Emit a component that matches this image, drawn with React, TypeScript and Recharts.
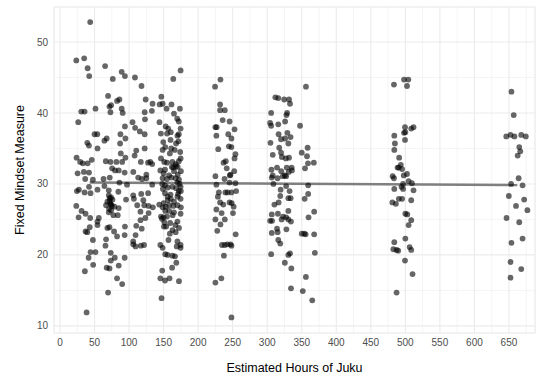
import React from 'react'
import {
  ComposedChart,
  Scatter,
  XAxis,
  YAxis,
  CartesianGrid,
  ReferenceLine,
} from 'recharts'

// jittered points, [hours, mindset], grouped by the hour column they sit around
const around40to100: [number, number][] = [
  [43.7, 52.8], [23.6, 47.4], [35, 47.7], [40, 46.3], [42.3, 45.2], [65.3, 46.6], [76.4, 44.8], [89.3, 45.8], [94, 45.2],
  [69.6, 42.4], [86, 41.9], [82.6, 41.7], [74, 41.1], [71.6, 40.9], [51.4, 40.6], [30.8, 40.2], [35.6, 40.2], [73, 40.1], [89.3, 40.6], [90.8, 40.0],
  [26.4, 38.7], [94, 38.1], [50, 37.0], [54, 37.0], [87.5, 37.0], [94.7, 36.4], [67.6, 36.4], [64.3, 36.1], [39.5, 35.8], [41.9, 35.4], [54.3, 35.0], [87, 35.7],
  [88, 34.3], [94.7, 33.7], [90, 33.1], [24, 33.7], [29.2, 33.1], [33, 32.9], [46, 33.4], [66.3, 33.2], [73, 33.1], [40, 32.9], [81.6, 33.1],
  [75.4, 32.2], [79.7, 31.9], [85, 31.9], [93.6, 31.6], [34.5, 31.7], [25.5, 31.5], [42, 31.6], [72, 30.9], [36.5, 30.7], [47.6, 30.6], [63, 30.7], [86, 30.2], [97, 29.9],
  [42, 29.6], [24.5, 29.0], [27.4, 29.2], [35.6, 28.8], [44.2, 28.7], [54.3, 29.2], [64.3, 29.7], [70.6, 29.1], [70.6, 28.4], [72, 28.0], [84.5, 28.9], [95.6, 27.8],
  [68.6, 27.5], [74, 27.1], [66.7, 27.0], [78.8, 26.8], [85, 26.6], [74, 26.3], [70.6, 26.0], [77.3, 25.6], [83.6, 25.6],
  [23.6, 26.9], [31.2, 26.2], [37, 25.8], [26.9, 25.3], [43.7, 25.2], [56.2, 25.2], [54.3, 24.7], [71.6, 23.9], [68.6, 23.8], [94, 24.0], [43, 23.9], [54.3, 24.2],
  [37, 23.3], [39.5, 23.2], [78.3, 23.3], [82.6, 22.6], [93.6, 22.8], [66.7, 22.2], [47.6, 22.1], [65.8, 21.3],
  [44.2, 20.4], [51.4, 20.4], [41.4, 19.6], [73.5, 20.3], [79.3, 19.6], [73.5, 19.2], [93.6, 19.6], [48, 18.6], [67.6, 18.2], [71.6, 18.1], [85, 18.5], [36, 17.7],
  [82.6, 16.7], [90, 15.9], [69.6, 14.7], [38.5, 11.9],
  [72, 27.6], [73, 27.2], [75, 26.9], [71, 26.5], [76, 27.8], [74, 28.1],
]

const around120to160: [number, number][] = [
  [174.6, 46.0], [108.5, 45.0], [118, 43.8], [164, 44.8], [124, 41.9], [134, 41.3], [146.7, 42.3], [144.3, 41.2], [148.6, 41.3], [133, 40.3], [122.6, 40.1], [154.3, 40.6], [161.4, 41.2],
  [165, 39.9], [169.7, 39.2], [172, 38.8], [173.6, 40.6], [105, 38.7], [108.7, 37.9], [115.6, 37.4], [122.6, 37.0], [123, 39.1], [144, 38.7], [153, 38.1], [156.6, 37.8], [160.4, 37.3], [155, 37.1], [146, 37.1], [172, 37.0], [174.6, 37.8],
  [160, 36.2], [149.5, 35.9], [152.4, 35.2], [148.6, 34.8], [110.4, 34.7], [122.6, 35.0], [168, 35.7], [171.5, 36.0], [159, 34.3],
  [108, 34.0], [117, 33.1], [127.4, 33.0], [133.5, 32.8], [130.7, 33.1], [146.2, 33.6], [150.9, 33.1], [162.8, 33.1], [167.5, 32.8], [164, 32.3], [170.4, 32.4], [174.6, 33.6],
  [106.1, 31.7], [113.2, 30.9], [118.8, 30.7], [125, 31.3], [125, 30.8], [133.5, 29.9], [145.3, 31.9], [148.6, 30.8], [154.8, 30.7], [161.4, 30.9], [167.5, 30.8], [170.4, 31.3], [172.2, 30.6], [148, 30.0], [162.8, 29.6], [174.6, 29.6],
  [106, 28.4], [107, 27.9], [117.6, 28.6], [127.6, 28.7], [152, 28.7], [155.7, 28.2], [160.4, 27.9], [170, 28.2], [174.6, 27.9], [120.6, 27.7],
  [111.8, 27.0], [122, 27.0], [128.3, 26.9], [134.4, 26.7], [143.7, 27.1], [158, 27.0], [164, 26.9], [148.6, 26.7], [152.4, 26.2], [165, 26.0], [174.6, 25.8], [128.3, 25.9], [123.6, 25.2], [116.5, 26.1],
  [146.2, 25.4], [154.8, 25.4], [147.6, 25.1], [159.4, 24.5], [170, 24.7], [116.5, 24.9], [150.4, 24.0], [153.7, 24.0], [162.8, 23.5], [167.5, 23.2], [172.2, 23.8], [110.4, 24.1], [118.3, 23.7],
  [109.4, 22.8], [106, 21.9], [121.7, 21.4], [117, 21.3], [109.4, 21.2], [106, 21.5], [145.3, 21.4], [148.6, 21.0], [157, 22.1], [170, 21.9], [169, 21.2], [174.6, 21.4], [174.6, 21.0],
  [152.4, 20.1], [155.7, 20.0], [162.8, 19.9], [166.5, 19.8], [168.4, 18.9], [162.3, 18.2], [148, 17.8], [145.3, 16.7], [152, 16.4], [158.6, 16.7], [172.2, 16.3], [147, 13.9],
  [150, 31.5], [152, 32.0], [156, 29.5], [165, 31.8], [168, 32.5], [170, 30.2], [172, 29.0], [175, 31.8], [160, 28.5], [165, 27.5], [158, 26.2], [150, 27.3], [152, 29.8], [172, 33.2], [174, 34.5], [166, 34.8], [150, 25.3], [151, 24.6], [170, 27.0], [175, 26.7],
  [155, 33.0], [158, 31.2], [162, 32.4], [168, 29.4], [171, 28.6], [173, 30.0], [156, 27.7], [163, 25.6], [167, 24.2], [159, 23.0], [153, 26.8], [149, 29.3], [161, 35.0], [175, 29.0], [170, 36.8],
]

const around240: [number, number][] = [
  [232.3, 44.7], [224.5, 43.7], [231.8, 41.2], [231.8, 40.4], [238.6, 40.4], [235.5, 39.0], [245.5, 38.8], [225, 38.0], [226.8, 38.0], [252.7, 37.7],
  [226.4, 36.8], [243.6, 37.0], [248.2, 36.4], [244.5, 35.3], [248.2, 35.2], [229.1, 34.9], [254, 34.2], [252.7, 33.6], [240, 33.2], [236.8, 33.0],
  [241.4, 32.2], [252.2, 31.8], [246.8, 31.3], [245.9, 31.2], [225, 31.1], [238.2, 30.7], [245.5, 30.2], [254, 30.1], [226.4, 29.9],
  [230, 28.8], [239.5, 28.8], [242.7, 28.8], [248.2, 28.8], [255, 29.0], [228.6, 28.2], [231.8, 27.4], [236.4, 27.1], [245.5, 27.4], [248.6, 27.3], [251.4, 26.8],
  [250.4, 25.9], [226.4, 26.4], [234, 25.9], [225, 25.0], [238.6, 25.0], [232.3, 24.3], [227.7, 23.4], [254.3, 22.9],
  [234.5, 21.4], [238.6, 21.4], [242.3, 21.5], [246.8, 21.5], [248.2, 21.3], [237.3, 19.9], [225, 16.1], [233.6, 16.7], [248.2, 11.2],
]

const around320to360: [number, number][] = [
  [356.1, 43.7], [311.8, 42.2], [316, 42.1], [324.5, 41.9], [331.6, 41.9], [333, 41.3], [305.7, 40.0], [328.8, 40.0], [327.8, 39.7], [325.9, 38.8],
  [304.2, 38.6], [305.7, 38.2], [316, 38.4], [347.5, 38.2], [316.5, 37.0], [329.2, 37.2], [320, 36.3], [325.9, 36.4], [333.8, 36.6], [304.7, 35.8],
  [330.6, 35.7], [317.4, 35.1], [350, 34.4], [358.5, 35.1], [308, 34.1], [320, 34.4], [321.2, 33.8], [327, 33.6], [331.6, 33.7], [357.6, 33.9],
  [359, 32.9], [367.5, 33.0], [354.7, 32.2], [306.1, 32.0], [314.2, 32.3], [320.3, 31.8], [328.3, 32.3], [335.4, 32.3], [308, 31.2], [306.6, 30.9],
  [315, 30.8], [322.6, 31.1], [325.5, 31.2], [327.4, 31.1], [331.1, 31.7], [335.8, 31.9], [309, 30.0], [327.4, 29.7], [359.3, 29.8], [319.4, 29.2],
  [332.4, 29.0], [318.9, 28.3], [330.6, 28.0], [333.9, 28.0], [359.3, 28.6], [354.2, 27.9], [316.5, 27.4], [310.4, 27.1], [330.6, 26.2], [306.6, 25.7],
  [315.5, 25.8], [323, 25.4], [327.4, 25.3], [330.6, 25.0], [334.4, 24.7], [304.2, 24.8], [307, 24.8], [320.8, 25.0], [359.8, 25.3], [368, 26.1],
  [314.2, 23.7], [315.1, 23.2], [306.6, 23.1], [327.8, 23.6], [350, 23.0], [353.7, 23.0], [355.6, 22.9], [368, 22.9], [316, 22.1], [318.9, 21.6],
  [305.7, 20.1], [330.6, 20.0], [333, 20.2], [369, 20.3], [325.5, 18.9], [334.9, 18.1], [356, 16.9], [334.4, 15.3], [351.5, 14.9], [365.2, 13.6],
]

const around495: [number, number][] = [
  [483.5, 44.0], [498.1, 44.7], [504.3, 44.7], [502.4, 43.8],
  [499.5, 38.0], [511.8, 38.0], [508.5, 37.8], [498.1, 37.2], [500, 37.3],
  [484, 36.8], [499.5, 36.2], [484.9, 35.7], [484, 34.8],
  [491, 33.7], [488.7, 32.3], [490.6, 32.3], [493.4, 32.7], [495.3, 32.1],
  [481.6, 31.1], [483.5, 30.8], [497.7, 31.2], [502.4, 31.4], [504.7, 30.4], [496.7, 30.0], [509.5, 30.1],
  [484, 29.3], [494.4, 29.6], [496.7, 29.3], [511.8, 29.1],
  [490.6, 27.9], [495.3, 27.9], [481.2, 27.4], [486.3, 27.2], [508.5, 27.7],
  [500, 25.8], [502.8, 25.7], [504.7, 24.2], [508.5, 24.9],
  [500, 22.3], [484, 21.8], [482.6, 20.8], [487.3, 20.7], [489.6, 20.6], [506.2, 21.1], [508.5, 20.7],
  [499.5, 19.2], [510.4, 17.3], [487.3, 14.7],
]

const around660: [number, number][] = [
  [653.6, 43.0], [656.9, 39.7], [646.1, 36.7], [652.2, 36.9], [657.9, 36.7], [667.8, 36.9], [674.4, 36.7],
  [664.9, 35.2], [666.4, 34.6], [662.6, 34.0], [664, 30.8], [653.1, 30.0], [669.7, 29.8],
  [649.8, 28.3], [672, 27.8], [660.2, 26.9], [676.7, 26.3], [646.5, 25.2], [664.9, 24.6],
  [653.6, 21.7], [669.7, 22.3], [652.2, 19.0], [667.8, 18.0], [652.2, 16.8],
]

// linear fit, drawn over the un-jittered hour range
const fitHours = [43, 662]
const fitMindset = [30.2, 29.85]

const xTicks = [0, 50, 100, 150, 200, 250, 300, 350, 400, 450, 500, 550, 600, 650]
const xMinorTicks = [25, 75, 125, 175, 225, 275, 325, 375, 425, 475, 525, 575, 625, 675]
const yTicks = [10, 20, 30, 40, 50]
const yMinorTicks = [15, 25, 35, 45]

const points = [
  ...around40to100,
  ...around120to160,
  ...around240,
  ...around320to360,
  ...around495,
  ...around660,
].map(([hours, mindset]) => ({ hours, mindset }))

const FONT = '"Liberation Sans", Arial, Helvetica, sans-serif'
const X_DOMAIN: [number, number] = [-8.7, 687.7]
const Y_DOMAIN: [number, number] = [9.0, 54.93]

const Dot = (props: any) => (
  <circle cx={props.cx} cy={props.cy} r={2.9} fill="#000" fillOpacity={0.6} />
)

const XTitle = (props: any) => {
  const vb = props.viewBox
  return (
    <text x={vb.x + vb.width / 2} y={vb.y + 39} textAnchor="middle" fontFamily={FONT} fontSize={12.5} fill="#000">
      Estimated Hours of Juku
    </text>
  )
}

const YTitle = (props: any) => {
  const vb = props.viewBox
  const cy = vb.y + vb.height / 2
  return (
    <text
      x={20}
      y={cy}
      transform={`rotate(-90 20 ${cy})`}
      textAnchor="middle"
      dominantBaseline="central"
      fontFamily={FONT}
      fontSize={12.5}
      fill="#000"
    >
      Fixed Mindset Measure
    </text>
  )
}

const tickStyle = { fontFamily: FONT, fontSize: 10, fill: '#4D4D4D' }

export default function App() {
  return (
    <div style={{ position: 'absolute', left: 0, top: 0, width: 540, height: 377, background: '#fff' }}>
      <ComposedChart width={540} height={377} margin={{ top: 7, right: 5, bottom: 0, left: 0 }}>
        <XAxis
          xAxisId="minor"
          type="number"
          dataKey="hours"
          domain={X_DOMAIN}
          ticks={xMinorTicks}
          allowDataOverflow
          hide
        />
        <YAxis yAxisId="minor" type="number" dataKey="mindset" domain={Y_DOMAIN} ticks={yMinorTicks} allowDataOverflow hide />
        <CartesianGrid xAxisId="minor" yAxisId="minor" stroke="#EBEBEB" strokeWidth={0.55} />
        <CartesianGrid stroke="#EBEBEB" strokeWidth={1.1} />
        <XAxis
          type="number"
          dataKey="hours"
          domain={X_DOMAIN}
          ticks={xTicks}
          allowDataOverflow
          axisLine={false}
          tickLine={false}
          tickSize={0}
          tickMargin={6}
          height={44}
          tick={tickStyle}
          label={<XTitle />}
        />
        <YAxis
          type="number"
          dataKey="mindset"
          domain={Y_DOMAIN}
          ticks={yTicks}
          allowDataOverflow
          axisLine={false}
          tickLine={false}
          tickSize={0}
          tickMargin={6}
          width={54}
          tick={tickStyle}
          label={<YTitle />}
        />
        <Scatter data={points} dataKey="mindset" shape={<Dot />} isAnimationActive={false} />
        <ReferenceLine
          segment={[
            { x: fitHours[0], y: fitMindset[0] },
            { x: fitHours[1], y: fitMindset[1] },
          ]}
          stroke="#7F7F7F"
          strokeWidth={2.5}
          ifOverflow="visible"
        />
      </ComposedChart>
    </div>
  )
}
